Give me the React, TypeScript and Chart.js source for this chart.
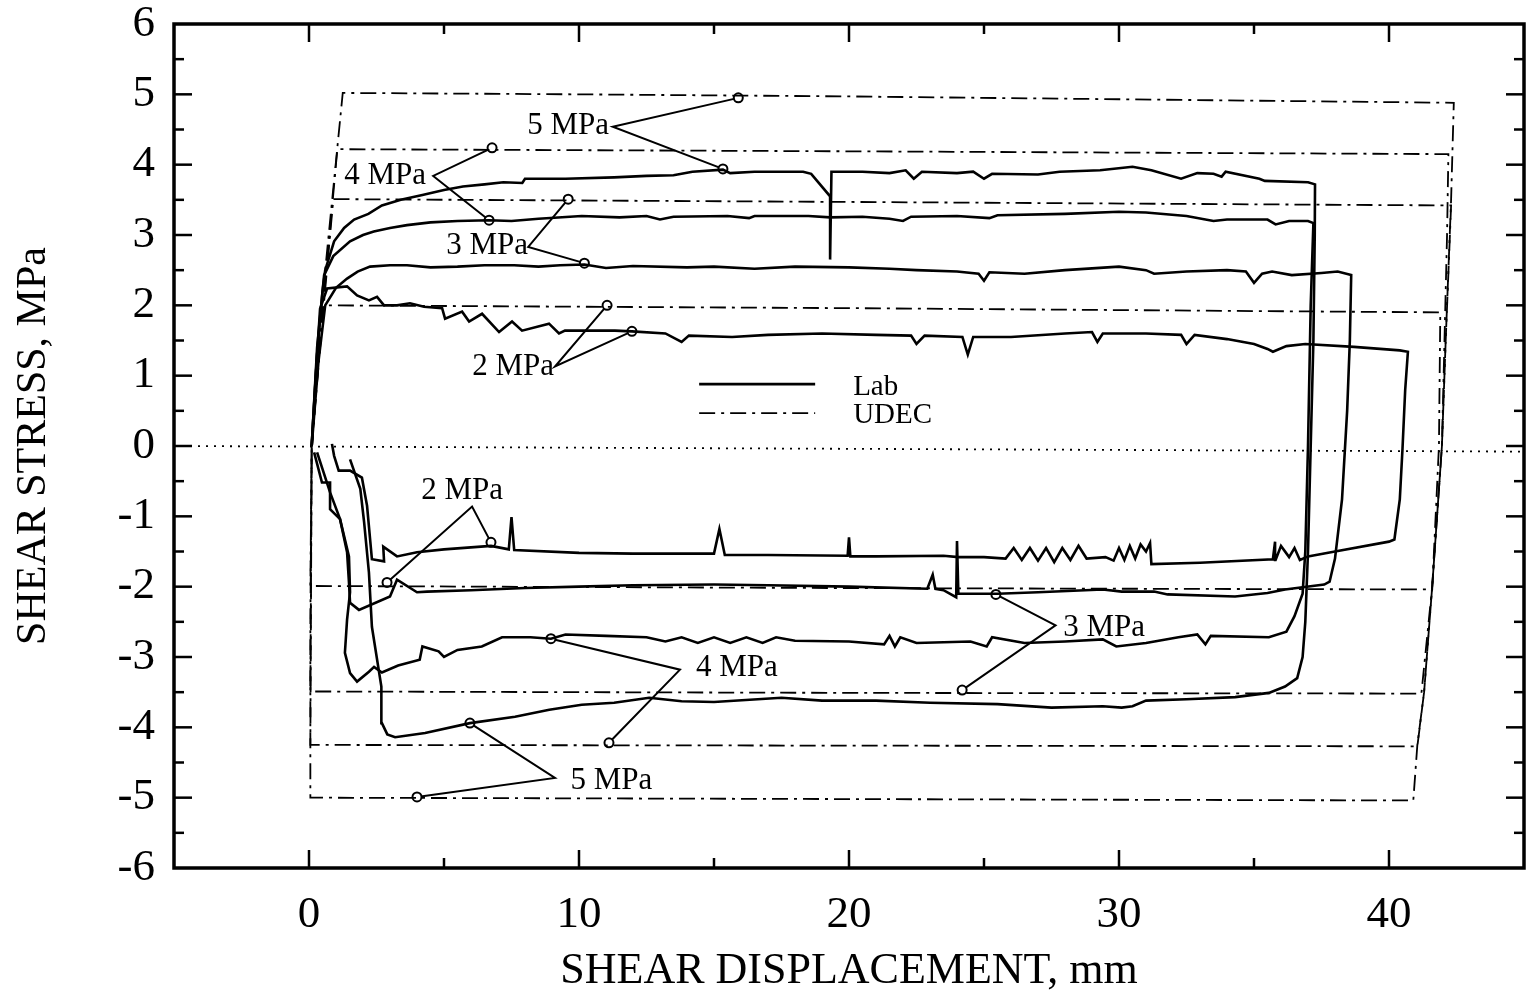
import { useEffect, useRef } from 'react';
import { Chart, registerables } from 'chart.js';

Chart.register(...registerables);

type P = [number, number];

// ---------- axes ----------
const xTickValues = [0, 10, 20, 30, 40];
const yTickValues = [-6, -5, -4, -3, -2, -1, 0, 1, 2, 3, 4, 5, 6];
const xTickMarks = [0, 5, 10, 15, 20, 25, 30, 35, 40];
const yTickMarks = [-5.5, -5, -4.5, -4, -3.5, -3, -2.5, -2, -1.5, -1, -0.5, 0, 0.5, 1, 1.5, 2, 2.5, 3, 3.5, 4, 4.5, 5, 5.5];

// ---------- Lab loops (shear displacement mm, shear stress MPa) ----------
const lab5: P[] = [
  [0.1, 0], [0.3, 1.3], [0.5, 2.2], [0.6, 2.5], [0.93, 2.91], [1.3, 3.1], [1.67, 3.22], [2.2, 3.3],
  [2.7, 3.42], [3.4, 3.5], [4.2, 3.57], [5.0, 3.64], [5.7, 3.69], [6.5, 3.72], [7.2, 3.75], [7.9, 3.74],
  [8.0, 3.8], [9.5, 3.8], [11.3, 3.82], [12.5, 3.84], [13.5, 3.85], [14.2, 3.9], [15.33, 3.93], [15.6, 3.88],
  [16.5, 3.9], [18.3, 3.9], [18.6, 3.87], [19.3, 3.55], [19.3, 2.65], [19.35, 3.9], [20.5, 3.9], [21.5, 3.88],
  [22.1, 3.92], [22.4, 3.8], [22.7, 3.9], [24, 3.88], [24.6, 3.9], [25, 3.8], [25.3, 3.87], [27, 3.86],
  [27.8, 3.9], [29.3, 3.92], [30.5, 3.97], [31.2, 3.92], [32.3, 3.8], [32.9, 3.88], [33.5, 3.87], [33.8, 3.83],
  [33.95, 3.9], [35.2, 3.8], [35.4, 3.77], [37.0, 3.75], [37.26, 3.72],
  [37.25, 3.0], [37.2, 1.5], [37.1, 0], [37.0, -1.5], [36.9, -2.5], [36.8, -3.0], [36.6, -3.3], [36.15, -3.42],
  [35.55, -3.51], [34.3, -3.57], [32.5, -3.6], [31, -3.62], [30.5, -3.7], [30.1, -3.72], [29.4, -3.7],
  [27.5, -3.72], [25.5, -3.67], [23, -3.65], [21, -3.62], [19, -3.62], [17.5, -3.58], [15, -3.64],
  [13.8, -3.63], [12.6, -3.58], [11.3, -3.65], [10.1, -3.68], [8.9, -3.75], [7.63, -3.85], [5.96, -3.94],
  [4.3, -4.08], [3.19, -4.14], [2.9, -4.1], [2.7, -3.94], [2.68, -3.42], [2.33, -2.57], [2.22, -1.8],
  [2.04, -1.08], [1.9, -0.61], [1.52, -0.19],
];

const lab4: P[] = [
  [0.1, 0], [0.3, 1.4], [0.56, 2.43], [0.9, 2.7], [1.52, 2.91], [2.0, 3.0], [2.4, 3.05], [3.0, 3.1],
  [3.63, 3.14], [4.5, 3.18], [5.5, 3.2], [6.67, 3.21], [7.5, 3.2], [8.5, 3.23], [10.1, 3.27], [11.5, 3.25],
  [12.5, 3.27], [13, 3.22], [13.5, 3.26], [15.5, 3.27], [16.3, 3.24], [16.5, 3.27], [18.5, 3.27], [19.3, 3.25],
  [20.5, 3.26], [21.5, 3.23], [22, 3.2], [22.3, 3.26], [24, 3.27], [25.2, 3.24], [25.5, 3.28], [28, 3.3],
  [30, 3.33], [31, 3.32], [32.5, 3.27], [33.5, 3.2], [34, 3.22], [35.5, 3.22], [35.8, 3.15], [36.3, 3.2],
  [37.0, 3.2], [37.2, 3.17],
  [37.1, 2.0], [37.0, 0], [36.9, -1.5], [36.8, -2.1], [36.5, -2.42], [36.2, -2.64], [35.55, -2.72],
  [33.4, -2.7], [33.2, -2.82], [32.9, -2.68], [32.2, -2.72], [31, -2.8], [29.9, -2.85], [29.4, -2.75],
  [28, -2.78], [26.5, -2.8], [25.3, -2.72], [25.1, -2.85], [24.5, -2.78], [22.5, -2.8], [21.9, -2.72],
  [21.7, -2.85], [21.5, -2.7], [21.3, -2.82], [20, -2.78], [18, -2.77], [17.3, -2.72], [16.8, -2.8],
  [16.2, -2.72], [15.6, -2.8], [15.0, -2.72], [14.4, -2.8], [13.8, -2.72], [13.2, -2.78], [12.5, -2.72],
  [11, -2.7], [9.5, -2.68], [8.96, -2.74], [8.2, -2.72], [7.15, -2.72], [6.4, -2.85], [5.5, -2.9],
  [5.0, -3.0], [4.8, -2.92], [4.2, -2.85], [4.1, -3.04], [3.3, -3.12], [2.7, -3.22], [2.41, -3.14],
  [2.22, -3.21], [1.78, -3.35], [1.52, -3.23], [1.33, -2.94], [1.41, -2.47], [1.52, -2.08], [1.48, -1.57],
  [1.15, -1.04], [0.78, -0.9], [0.78, -0.52], [0.48, -0.52], [0.19, -0.09],
];

const lab3: P[] = [
  [0.1, 0], [0.35, 1.2], [0.6, 2.0], [1.0, 2.25], [1.41, 2.38], [1.8, 2.48], [2.26, 2.55], [3.0, 2.57],
  [3.63, 2.57], [4.5, 2.54], [5.5, 2.55], [6.5, 2.57], [7.6, 2.57], [8.5, 2.55], [9.3, 2.57], [10.2, 2.58],
  [11, 2.53], [12, 2.56], [14, 2.54], [15, 2.55], [16.5, 2.52], [18, 2.55], [20, 2.54], [21.5, 2.52],
  [22.5, 2.5], [24, 2.48], [24.8, 2.45], [25, 2.35], [25.2, 2.47], [26.5, 2.45], [28, 2.5], [30, 2.55],
  [31, 2.5], [31.3, 2.45], [32.5, 2.48], [34, 2.5], [34.7, 2.48], [35.0, 2.32], [35.3, 2.45], [35.67, 2.48],
  [36.4, 2.43], [37.5, 2.46], [38.1, 2.48], [38.6, 2.43],
  [38.55, 1.5], [38.45, 0.5], [38.26, -0.76], [38.0, -1.6], [37.8, -1.93], [37.6, -1.97], [36.15, -2.04],
  [35.5, -2.09], [34.3, -2.14], [31.8, -2.11], [31.3, -2.07], [30.1, -2.07], [29.4, -2.04], [27, -2.08],
  [25.5, -2.1], [24.05, -2.1], [24.0, -1.35], [23.97, -2.15], [23.5, -2.05], [23.2, -2.03], [23.1, -1.83],
  [22.9, -2.03], [20, -2.0], [17, -1.98], [15, -1.97], [12, -1.98], [10, -2.0], [8, -2.02], [6, -2.05],
  [4.37, -2.07], [4.0, -2.08], [3.26, -1.9], [3.0, -2.14], [1.85, -2.33], [1.52, -2.23], [1.48, -1.94],
  [1.41, -1.51], [1.15, -1.04], [0.78, -0.66], [0.3, -0.09],
];

const lab2: P[] = [
  [0.1, 0], [0.25, 1.0], [0.41, 1.95], [0.67, 2.24], [1.41, 2.27], [1.78, 2.14], [2.22, 2.07], [2.52, 2.12],
  [2.78, 2.0], [3.26, 2.0], [3.74, 2.03], [4.26, 1.98], [4.93, 1.96], [5.04, 1.81], [5.67, 1.91], [5.93, 1.77],
  [6.41, 1.88], [7.04, 1.62], [7.52, 1.77], [7.89, 1.64], [8.89, 1.74], [9.26, 1.6], [9.48, 1.64],
  [11.33, 1.64], [11.96, 1.63], [13.2, 1.6], [13.8, 1.48], [14.07, 1.57], [15.67, 1.55], [17, 1.58],
  [19, 1.6], [21, 1.58], [22.3, 1.57], [22.5, 1.45], [22.8, 1.57], [24.2, 1.55], [24.4, 1.3], [24.6, 1.55],
  [26, 1.55], [28, 1.6], [29.0, 1.62], [29.2, 1.48], [29.4, 1.6], [31, 1.6], [32.3, 1.58], [32.5, 1.45],
  [32.8, 1.58], [34, 1.52], [35.0, 1.45], [35.5, 1.38], [35.7, 1.34], [36.2, 1.42], [36.9, 1.45],
  [38.7, 1.41], [40.4, 1.36], [40.7, 1.34],
  [40.6, 0.8], [40.5, -0.04], [40.4, -0.76], [40.2, -1.33], [40.0, -1.36], [38.0, -1.5], [37.0, -1.57],
  [36.7, -1.62], [36.5, -1.45], [36.3, -1.58], [36.0, -1.42], [35.8, -1.62], [35.78, -1.36], [35.7, -1.61],
  [33, -1.66], [31.2, -1.68], [31.15, -1.38], [31.0, -1.5], [30.8, -1.4], [30.6, -1.6], [30.4, -1.42],
  [30.2, -1.62], [30.0, -1.45], [29.8, -1.63], [29.5, -1.58], [28.8, -1.6], [28.5, -1.42], [28.2, -1.62],
  [27.9, -1.45], [27.6, -1.65], [27.3, -1.45], [27.0, -1.63], [26.7, -1.45], [26.4, -1.62], [26.1, -1.45],
  [25.8, -1.6], [25, -1.58], [24.05, -1.58], [23.5, -1.56], [21, -1.57], [20.05, -1.57], [20.0, -1.3],
  [19.95, -1.56], [17, -1.55], [15.4, -1.55], [15.2, -1.18], [15.0, -1.53], [12, -1.53], [10, -1.52],
  [7.6, -1.48], [7.5, -1.01], [7.4, -1.47], [6.74, -1.42], [5, -1.47], [4.0, -1.51], [3.26, -1.57],
  [2.75, -1.43], [2.78, -1.64], [2.33, -1.61], [2.15, -0.85], [1.96, -0.45], [1.52, -0.35], [1.1, -0.35],
  [0.93, -0.14], [0.85, 0.03],
];

// ---------- UDEC loops ----------
const udec5: P[] = [
  [0.1, 0], [0.6, 2.5], [1.25, 5.02], [10, 5.0], [20, 4.97], [30, 4.93], [42.4, 4.88], [42.3, 3.5],
  [42.1, 1.5], [41.96, 0], [41.6, -2.0], [41.3, -3.5], [41.05, -4.25], [40.9, -5.04], [20, -5.02],
  [0.05, -5.0], [0.05, -2.5], [0.1, 0],
];
const udec4: P[] = [
  [0.1, 0], [0.55, 2.1], [1.05, 4.22], [20, 4.19], [42.2, 4.15], [42.15, 3.0], [41.96, 0], [41.6, -2.0],
  [41.3, -3.5], [41.05, -4.27], [20, -4.26], [0.05, -4.25], [0.1, 0],
];
const udec3: P[] = [
  [0.1, 0], [0.5, 1.8], [0.9, 3.51], [20, 3.47], [42.3, 3.42], [42.1, 1.5], [41.96, 0], [41.6, -2.0],
  [41.2, -3.52], [20, -3.51], [0.05, -3.49], [0.1, 0],
];
const udec2: P[] = [
  [0.1, 0], [0.35, 1.2], [0.56, 2.0], [20, 1.96], [41.9, 1.9], [41.85, 0], [41.6, -2.04], [20, -2.02],
  [0.05, -1.99], [0.1, 0],
];

const zeroLine: P[] = [[-5, 0], [45, -0.08]];

// ---------- annotations ----------
const annotationTexts = ['5 MPa', '4 MPa', '3 MPa', '2 MPa', '2 MPa', '3 MPa', '4 MPa', '5 MPa'];
const annotationPos: P[] = [
  [9.6, 4.55], [2.82, 3.84], [6.6, 2.85], [7.56, 1.13],
  [5.67, -0.64], [29.45, -2.58], [15.85, -3.15], [11.2, -4.76],
];
const leaderLines: P[][] = [
  [[15.9, 4.95], [11.25, 4.54], [15.33, 3.94]],
  [[6.78, 4.24], [4.6, 3.84], [6.67, 3.21]],
  [[9.6, 3.51], [8.12, 2.83], [10.2, 2.6]],
  [[11.04, 2.0], [9.11, 1.13], [11.96, 1.63]],
  [[6.74, -1.37], [6.04, -0.86], [2.89, -1.94]],
  [[25.44, -2.11], [27.65, -2.55], [24.19, -3.47]],
  [[8.96, -2.74], [13.74, -3.18], [11.11, -4.22]],
  [[5.96, -3.94], [9.11, -4.72], [4.0, -4.99]],
];

const seriesNames = ['Lab', 'UDEC'];
const legendAnchor: P = [14.45, 0.88];

const FONT = '"Liberation Serif", "Times New Roman", Times, serif';
const UDEC_DASH = [16, 6, 3, 6];

const toXY = (pts: P[]) => pts.map(([x, y]) => ({ x, y }));

export default function App() {
  const ref = useRef<HTMLCanvasElement | null>(null);

  useEffect(() => {
    document.body.style.margin = '0';
    document.body.style.overflow = 'hidden';
    const canvas = ref.current;
    if (!canvas) return;

    const labStyle = { borderColor: '#000', borderWidth: 2.6, pointRadius: 0, showLine: true, fill: false, tension: 0 };
    const udecStyle = { borderColor: '#000', borderWidth: 1.8, borderDash: UDEC_DASH, pointRadius: 0, showLine: true, fill: false, tension: 0 };

    const datasets: any[] = [
      { label: 'zero', data: toXY(zeroLine), borderColor: '#000', borderWidth: 1.8, borderDash: [2, 6], pointRadius: 0, showLine: true },
      ...[udec5, udec4, udec3, udec2].map((d, i) => ({ label: `${seriesNames[1]} ${5 - i} MPa`, data: toXY(d), ...udecStyle })),
      ...[lab5, lab4, lab3, lab2].map((d, i) => ({ label: `${seriesNames[0]} ${5 - i} MPa`, data: toXY(d), ...labStyle })),
      ...leaderLines.map((d, i) => ({
        label: `leader ${i}`,
        data: toXY(d),
        borderColor: '#000',
        borderWidth: 2,
        showLine: true,
        pointRadius: [4.5, 0, 4.5],
        pointBorderWidth: 2,
        pointBorderColor: '#000',
        pointBackgroundColor: '#fff',
        pointStyle: 'circle',
      })),
    ];

    const overlay = {
      id: 'overlay',
      afterDatasetsDraw(chart: any) {
        const { ctx, chartArea: a, scales } = chart;
        const xs = scales.x;
        const ys = scales.y;
        const line = (x1: number, y1: number, x2: number, y2: number) => {
          ctx.beginPath();
          ctx.moveTo(x1, y1);
          ctx.lineTo(x2, y2);
          ctx.stroke();
        };
        ctx.save();
        ctx.strokeStyle = '#000';
        ctx.setLineDash([]);
        // ticks pointing inwards on all four sides
        ctx.lineWidth = 2.5;
        for (const v of xTickMarks) {
          const px = xs.getPixelForValue(v);
          const len = v % 10 === 0 ? 18 : 10;
          line(px, a.bottom, px, a.bottom - len);
          line(px, a.top, px, a.top + len);
        }
        for (const v of yTickMarks) {
          const py = ys.getPixelForValue(v);
          const len = Number.isInteger(v) ? 18 : 10;
          line(a.left, py, a.left + len, py);
          line(a.right, py, a.right - len, py);
        }
        // frame
        ctx.lineWidth = 3.5;
        ctx.strokeRect(a.left, a.top, a.right - a.left, a.bottom - a.top);

        // annotation labels
        ctx.fillStyle = '#000';
        ctx.font = `31px ${FONT}`;
        ctx.textAlign = 'center';
        ctx.textBaseline = 'middle';
        annotationTexts.forEach((t, i) => {
          const [x, y] = annotationPos[i];
          ctx.fillText(t, xs.getPixelForValue(x), ys.getPixelForValue(y));
        });

        // legend
        const lx = xs.getPixelForValue(legendAnchor[0]);
        const ly = ys.getPixelForValue(legendAnchor[1]);
        const len = 116;
        const gap = 29;
        ctx.lineWidth = 2.6;
        line(lx, ly, lx + len, ly);
        ctx.lineWidth = 1.8;
        ctx.setLineDash(UDEC_DASH);
        line(lx, ly + gap, lx + len, ly + gap);
        ctx.setLineDash([]);
        ctx.font = `29px ${FONT}`;
        ctx.textAlign = 'left';
        ctx.fillText(seriesNames[0], lx + len + 38, ly + 3);
        ctx.fillText(seriesNames[1], lx + len + 38, ly + gap + 2);
        ctx.restore();
      },
    };

    const chart = new Chart(canvas, {
      type: 'scatter',
      data: { datasets },
      options: {
        animation: false,
        responsive: true,
        maintainAspectRatio: false,
        layout: { padding: { top: 24, right: 13, left: 0, bottom: 0 } },
        plugins: { legend: { display: false }, tooltip: { enabled: false } },
        elements: { line: { tension: 0 } },
        scales: {
          x: {
            type: 'linear',
            min: -5,
            max: 45,
            grid: { display: false, drawTicks: false },
            border: { display: false },
            afterBuildTicks: (s: any) => { s.ticks = xTickValues.map((v) => ({ value: v })); },
            afterFit: (s: any) => { s.height = 131; s.paddingLeft = 0; s.paddingRight = 0; },
            ticks: { color: '#000', font: { family: FONT, size: 45 }, padding: 20, maxRotation: 0 },
            title: { display: true, text: 'SHEAR DISPLACEMENT, mm', color: '#000', font: { family: FONT, size: 44 }, padding: { top: 0, bottom: 1 } },
          },
          y: {
            type: 'linear',
            min: -6,
            max: 6,
            grid: { display: false, drawTicks: false },
            border: { display: false },
            afterBuildTicks: (s: any) => { s.ticks = yTickValues.map((v) => ({ value: v })); },
            afterFit: (s: any) => { s.width = 174; s.paddingTop = 0; s.paddingBottom = 0; },
            ticks: { color: '#000', font: { family: FONT, size: 45 }, padding: 19 },
            title: { display: true, text: 'SHEAR STRESS, MPa', color: '#000', font: { family: FONT, size: 42 }, padding: { top: 9, bottom: 0 } },
          },
        },
      },
      plugins: [overlay],
    } as any);

    return () => chart.destroy();
  }, []);

  return (
    <div style={{ width: 1537, height: 999, position: 'relative', background: '#fff' }}>
      <canvas ref={ref} />
    </div>
  );
}
